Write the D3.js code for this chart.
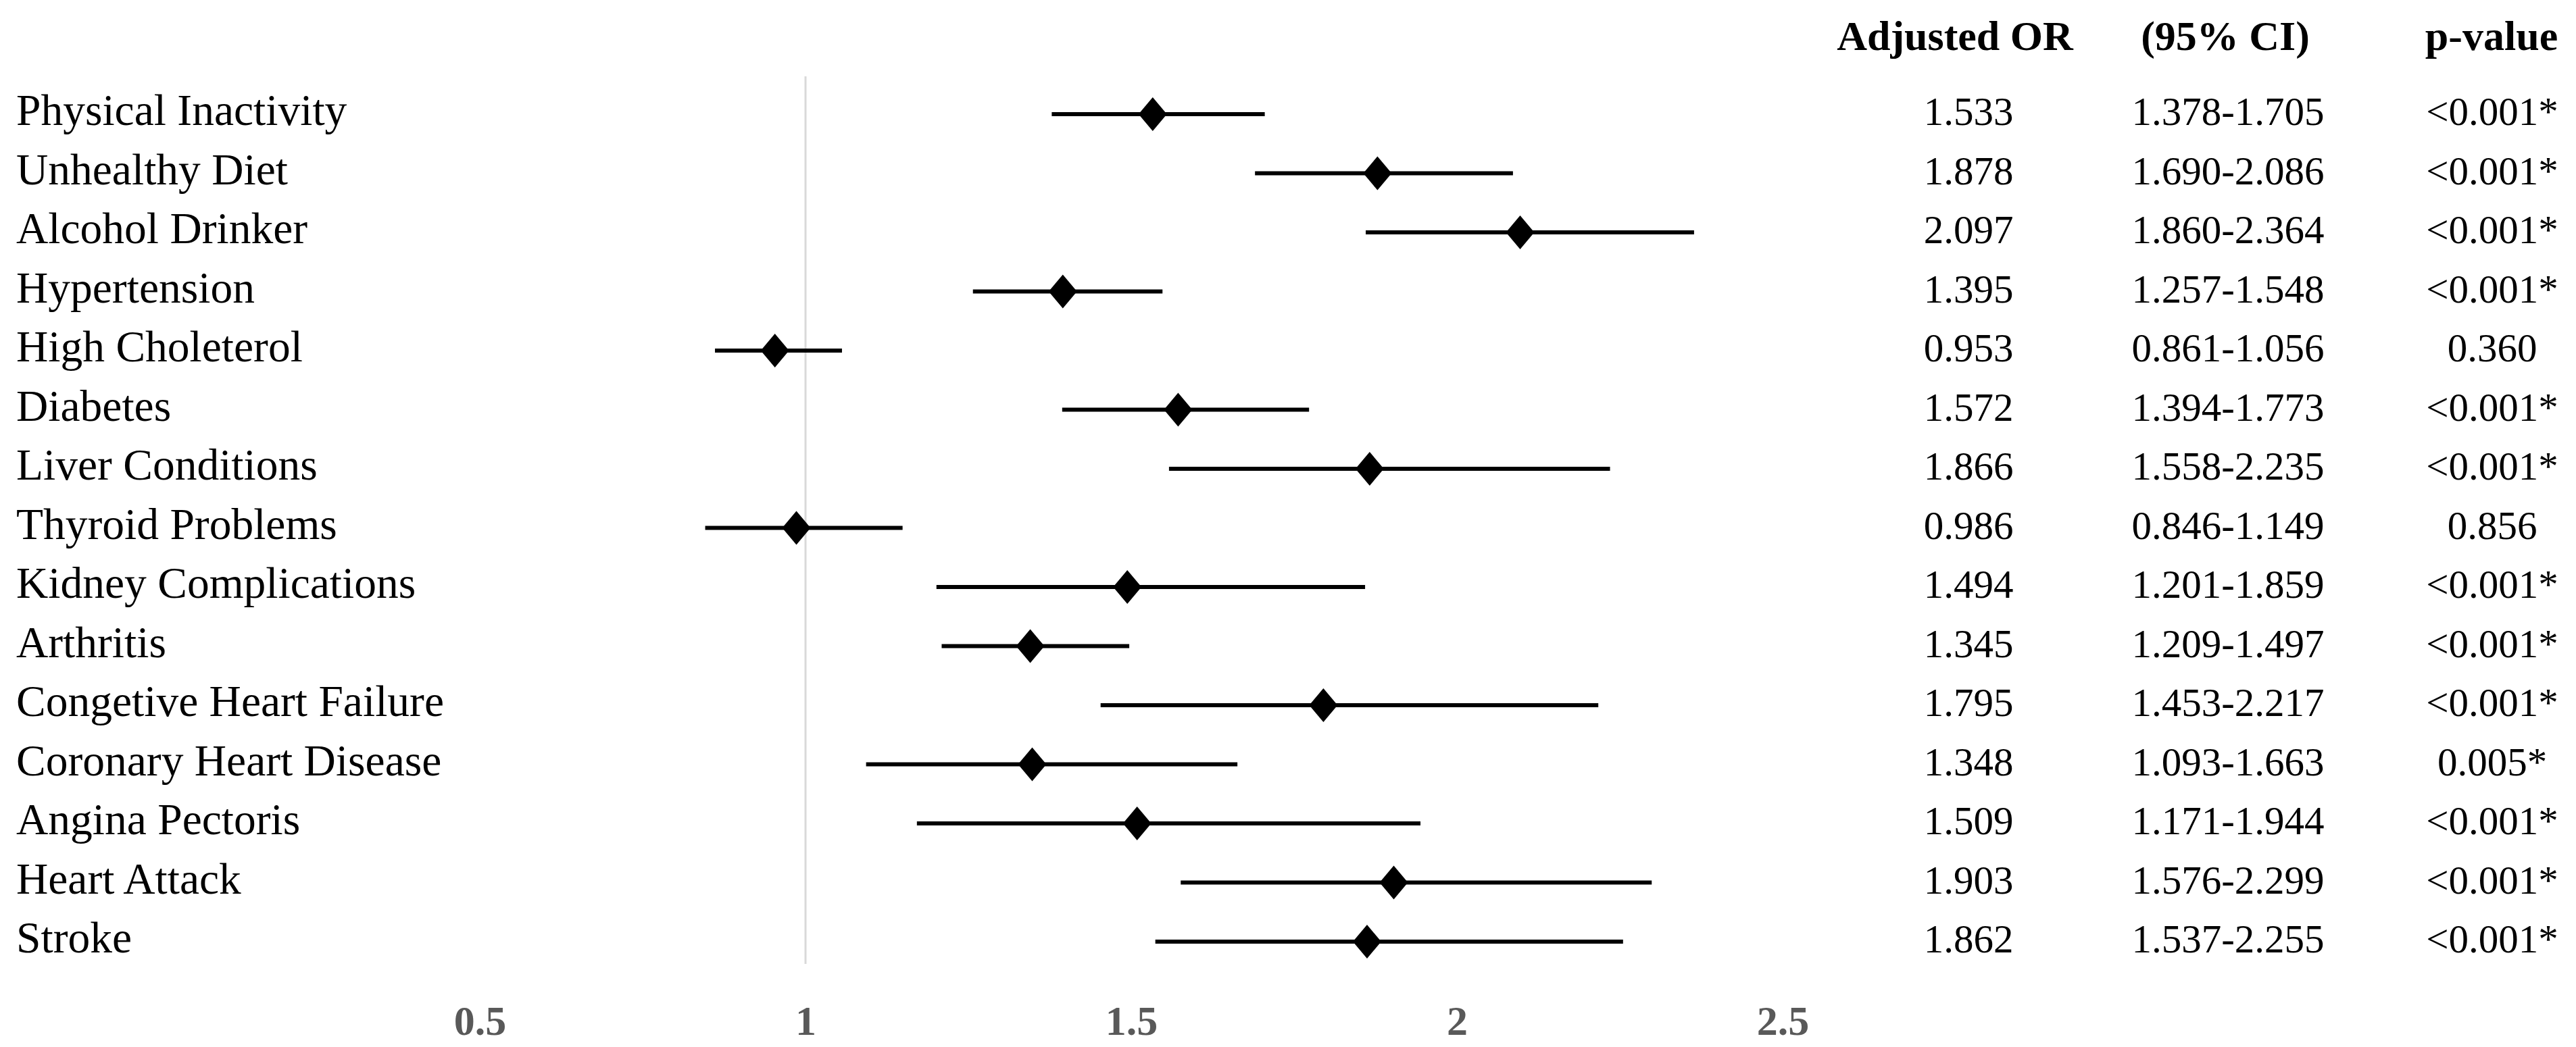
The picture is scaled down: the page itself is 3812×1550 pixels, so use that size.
<!DOCTYPE html>
<html>
<head>
<meta charset="utf-8">
<script src="https://cdn.jsdelivr.net/npm/d3@7"></script>
<style>
  body { margin: 0; background: #fff; }
  text { font-family: "Liberation Serif", "DejaVu Serif", serif; }
</style>
</head>
<body>
<div id="Forest"></div>
<script>
const factors = [
  "Physical Inactivity", "Unhealthy Diet", "Alcohol Drinker", "Hypertension",
  "High Choleterol", "Diabetes", "Liver Conditions", "Thyroid Problems",
  "Kidney Complications", "Arthritis", "Congetive Heart Failure",
  "Coronary Heart Disease", "Angina Pectoris", "Heart Attack", "Stroke"
];
const oddsRatio = [1.533, 1.878, 2.097, 1.395, 0.953, 1.572, 1.866, 0.986, 1.494, 1.345, 1.795, 1.348, 1.509, 1.903, 1.862];
const ciLow     = [1.378, 1.690, 1.860, 1.257, 0.861, 1.394, 1.558, 0.846, 1.201, 1.209, 1.453, 1.093, 1.171, 1.576, 1.537];
const ciHigh    = [1.705, 2.086, 2.364, 1.548, 1.056, 1.773, 2.235, 1.149, 1.859, 1.497, 2.217, 1.663, 1.944, 2.299, 2.255];
const pValues   = ["<0.001*", "<0.001*", "<0.001*", "<0.001*", "0.360", "<0.001*", "<0.001*", "0.856",
                   "<0.001*", "<0.001*", "<0.001*", "0.005*", "<0.001*", "<0.001*", "<0.001*"];
const tickValues = [0.5, 1, 1.5, 2, 2.5];
const tickLabels = ["0.5", "1", "1.5", "2", "2.5"];
const headers = ["Adjusted OR", "(95% CI)", "p-value"];

const W = 3812, H = 1550;
const rows = factors.map((f, i) => ({
  name: f, or: oddsRatio[i], lo: ciLow[i], hi: ciHigh[i], p: pValues[i]
}));

const svg = d3.select("#Forest")
  .append("svg")
    .attr("width", W)
    .attr("height", H);

const xScale = d3.scaleLinear().domain([0.5, 2.5]).range([710, 2638]);
const yScale = d3.scalePoint().domain(factors).range([169, 1394]);

// reference line at OR = 1
svg.append("line")
  .attr("x1", xScale(1)).attr("x2", xScale(1))
  .attr("y1", 113).attr("y2", 1427)
  .attr("stroke", "#d9d9d9")
  .attr("stroke-width", 3);

// x axis, labels only
const axisG = svg.append("g")
  .attr("transform", `translate(0,1532)`)
  .call(d3.axisBottom(xScale)
    .tickValues(tickValues)
    .tickFormat((d, i) => tickLabels[i])
    .tickSize(0));
axisG.select(".domain").remove();
axisG.selectAll("text")
  .attr("y", 0).attr("dy", 0)
  .attr("fill", "#595959")
  .attr("font-size", 62)
  .attr("font-weight", "bold")
  .attr("font-family", "Liberation Serif");

const rowG = svg.selectAll("g.row")
  .data(rows)
  .join("g")
    .attr("class", "row")
    .attr("transform", d => `translate(0,${yScale(d.name)})`);

rowG.append("line")
  .attr("x1", d => xScale(d.lo))
  .attr("x2", d => xScale(d.hi))
  .attr("stroke", "#000")
  .attr("stroke-width", 6);

rowG.append("path")
  .attr("d", d => {
    const cx = xScale(d.or);
    return `M${cx},-25L${cx + 21},0L${cx},25L${cx - 21},0Z`;
  })
  .attr("fill", "#000");

rowG.append("text")
  .attr("x", 24).attr("y", 16)
  .attr("font-size", 65.5)
  .attr("fill", "#000")
  .text(d => d.name);

const colX = [2913, 3297, 3688];
rowG.append("text")
  .attr("x", colX[0]).attr("y", 16)
  .attr("text-anchor", "middle")
  .attr("font-size", 59)
  .text(d => d.or.toFixed(3));
rowG.append("text")
  .attr("x", colX[1]).attr("y", 16)
  .attr("text-anchor", "middle")
  .attr("font-size", 59)
  .text(d => d.lo.toFixed(3) + "-" + d.hi.toFixed(3));
rowG.append("text")
  .attr("x", colX[2]).attr("y", 16)
  .attr("text-anchor", "middle")
  .attr("font-size", 59)
  .text(d => d.p);

const headX = [2893, 3293, 3687];
svg.selectAll("text.head")
  .data(headers)
  .join("text")
    .attr("class", "head")
    .attr("x", (d, i) => headX[i])
    .attr("y", 74)
    .attr("text-anchor", "middle")
    .attr("font-size", 62)
    .attr("font-weight", "bold")
    .text(d => d);
</script>
</body>
</html>
